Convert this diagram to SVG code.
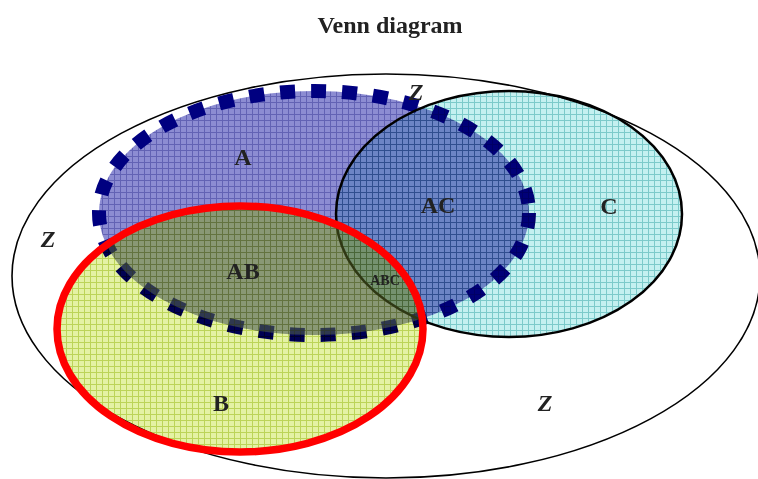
<svg xmlns="http://www.w3.org/2000/svg" width="758" height="479" viewBox="0 0 758 479">
  <style>
    .lbl { font-family: "Liberation Serif", "Times New Roman", serif; font-weight: bold; fill: #222222; text-anchor: middle; }
    .big { font-size: 24px; }
    .z { font-style: italic; }
    .small { font-size: 14px; }
    .mul { mix-blend-mode: multiply; }
  </style>
  <defs>
    <pattern id="pA" width="6" height="6" patternUnits="userSpaceOnUse">
      <rect width="6" height="6" fill="#8c8cd2"/>
      <path d="M0 0.5H6M0.5 0V6" stroke="#6262b4" stroke-width="1"/>
    </pattern>
    <pattern id="pC" width="6" height="6" patternUnits="userSpaceOnUse">
      <rect width="6" height="6" fill="#c4f0f0"/>
      <path d="M0 0.5H6M0.5 0V6" stroke="#7ccaca" stroke-width="1"/>
    </pattern>
    <pattern id="pB" width="6" height="6" patternUnits="userSpaceOnUse">
      <rect width="6" height="6" fill="#e4f2a4"/>
      <path d="M0 0.5H6M0.5 0V6" stroke="#bcd458" stroke-width="1"/>
    </pattern>
    <clipPath id="clipA">
      <ellipse cx="314" cy="213" rx="215" ry="122"/>
    </clipPath>
  </defs>
  <rect width="758" height="479" fill="#ffffff"/>

  <text class="lbl big" x="390" y="33">Venn diagram</text>

  <g id="setZ">
    <ellipse cx="386" cy="276" rx="374" ry="202" fill="none" stroke="#000000" stroke-width="1.6"/>
  </g>

  <g id="setA">
    <ellipse cx="314" cy="213" rx="215" ry="122" fill="url(#pA)"/>
    <ellipse cx="314" cy="213" rx="215" ry="122" fill="none" stroke="#000080" stroke-width="14" stroke-dasharray="15 16"/>
  </g>

  <g id="setC" class="mul">
    <ellipse cx="509" cy="214" rx="173" ry="123" fill="url(#pC)" stroke="#000000" stroke-width="2.5"/>
  </g>

  <g id="setB">
    <ellipse class="mul" cx="240" cy="329" rx="183" ry="123" fill="url(#pB)"/>
    <ellipse cx="240" cy="329" rx="183" ry="123" fill="#a8c848" fill-opacity="0.28" clip-path="url(#clipA)"/>
    <ellipse cx="240" cy="329" rx="183" ry="123" fill="none" stroke="#ff0000" stroke-width="7.5"/>
  </g>

  <g id="labels">
    <text class="lbl big z" x="416" y="100">Z</text>
    <text class="lbl big" x="243" y="165">A</text>
    <text class="lbl big" x="438" y="213">AC</text>
    <text class="lbl big" x="609" y="214">C</text>
    <text class="lbl big z" x="48" y="247">Z</text>
    <text class="lbl big" x="243" y="279">AB</text>
    <text class="lbl small" x="385" y="285">ABC</text>
    <text class="lbl big" x="221" y="411">B</text>
    <text class="lbl big z" x="545" y="411">Z</text>
  </g>
</svg>
